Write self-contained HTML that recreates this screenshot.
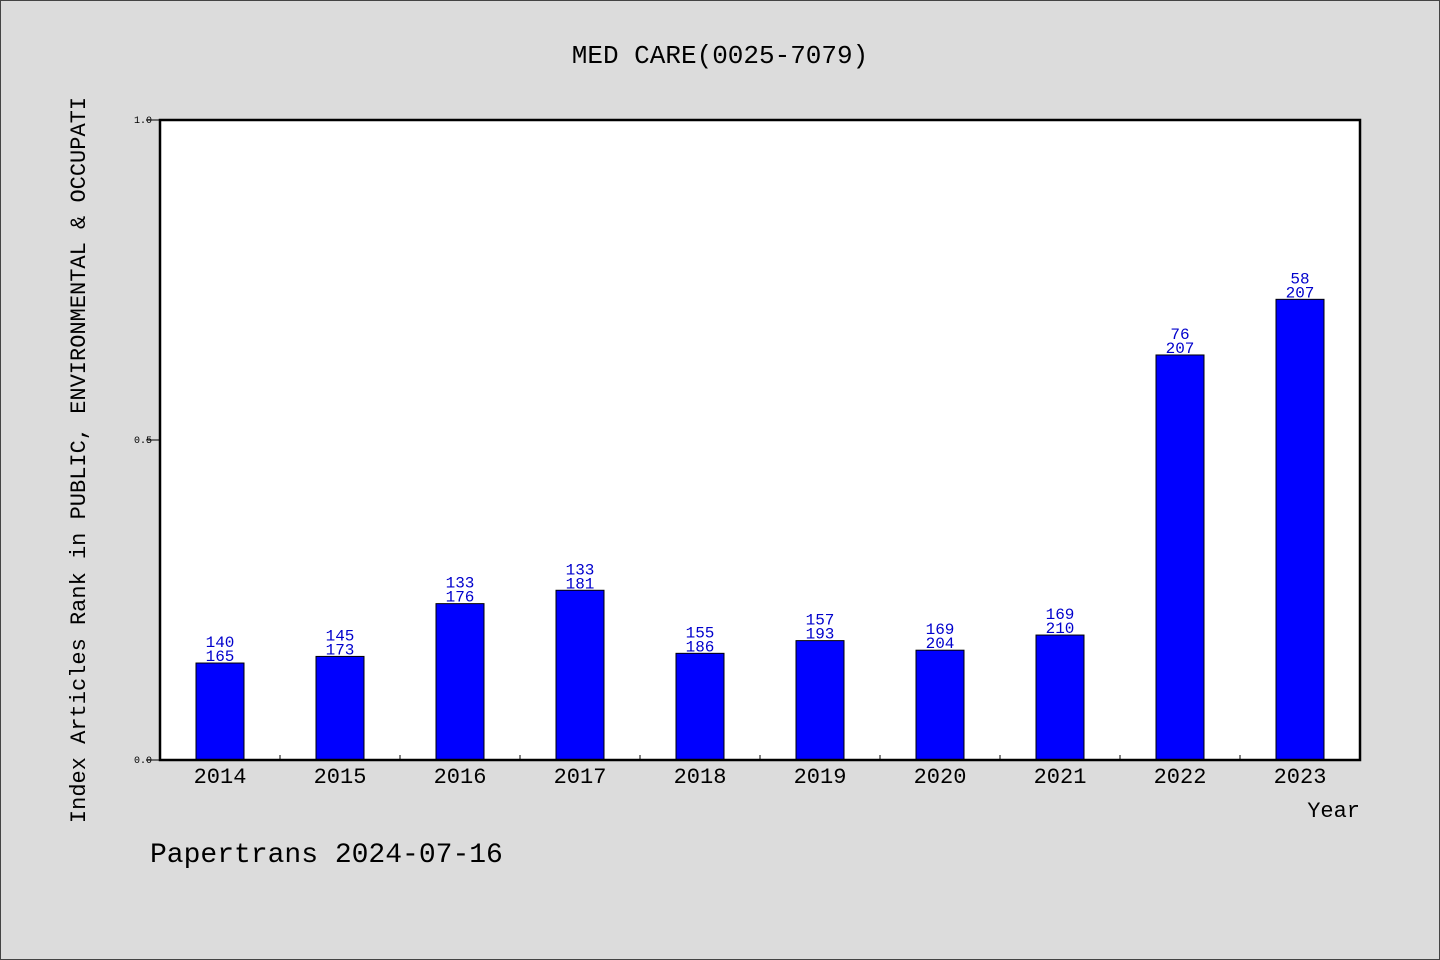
<!DOCTYPE html>
<html><head><meta charset="utf-8"><style>
body{margin:0;background:#dcdcdc;}
svg{display:block;font-family:"WenQuanYi Zen Hei","Liberation Mono",monospace;}
</style></head><body>
<svg width="1440" height="960" viewBox="0 0 1440 960">
<rect x="0.5" y="0.5" width="1439" height="959" fill="#dcdcdc" stroke="#444"/>
<text x="720" y="63" font-size="26" text-anchor="middle">MED CARE(0025-7079)</text>
<rect x="160" y="120" width="1200" height="640" fill="#fff"/>
<g id="bars"></g>
<rect x="160" y="120" width="1200" height="640" fill="none" stroke="#000" stroke-width="2.5"/>
<g id="axes"></g>
<text transform="translate(85,460) rotate(-90)" font-size="22" text-anchor="middle">Index Articles Rank in PUBLIC, ENVIRONMENTAL &amp; OCCUPATI</text>
<text x="1360" y="817" font-size="22" text-anchor="end">Year</text>
<text x="150" y="862" font-size="28">Papertrans 2024-07-16</text>
</svg>
<script>
const years=["2014","2015","2016","2017","2018","2019","2020","2021","2022","2023"];
const ranks=[140,145,133,133,155,157,169,169,76,58];
const totals=[165,173,176,181,186,193,204,210,207,207];
const yTicks=[0,0.5,1.0];
const yTickLabels=["0.0","0.5","1.0"];
const NS="http://www.w3.org/2000/svg";
const X0=160,W=1200,Y0=760,H=640;
const band=W/years.length;
const xc=i=>X0+band*(i+0.5);
const y=v=>Y0-v*H;
function mk(t,a,p){const e=document.createElementNS(NS,t);for(const k in a)e.setAttribute(k,a[k]);p.appendChild(e);return e;}
const gb=document.getElementById('bars'),ga=document.getElementById('axes');
years.forEach((yr,i)=>{
  const v=1-ranks[i]/totals[i];
  const r=mk('rect',{x:xc(i)-24,y:y(v),width:48,height:Y0-y(v),fill:'#0000ff',stroke:'#000','stroke-width':1},gb);
  
  
  const t1=mk('text',{x:xc(i),y:y(v)-16,'font-size':16,fill:'#0000cc','text-anchor':'middle'},gb);
  t1.textContent=ranks[i];
  
  
  const t2=mk('text',{x:xc(i),y:y(v)-2,'font-size':16,fill:'#0000cc','text-anchor':'middle'},gb);
  t2.textContent=totals[i];
  
  
  const xl=mk('text',{x:xc(i),y:783,'font-size':22,'text-anchor':'middle'},ga);
  xl.textContent=yr;
  
  
  if(i>0){const tk=mk('line',{x1:X0+band*i,x2:X0+band*i,y1:Y0,y2:Y0-5,stroke:'#000'},ga);
  
  }
});
yTicks.forEach((v,i)=>{
  const tk=mk('line',{x1:X0-14,x2:X0,y1:y(v),y2:y(v),stroke:'#000'},ga);
  
  
  const tl=mk('text',{x:X0-8,y:y(v)+3,'font-size':10,'text-anchor':'end'},ga);
  tl.textContent=yTickLabels[i];
  
  
});
</script>
</body></html>
